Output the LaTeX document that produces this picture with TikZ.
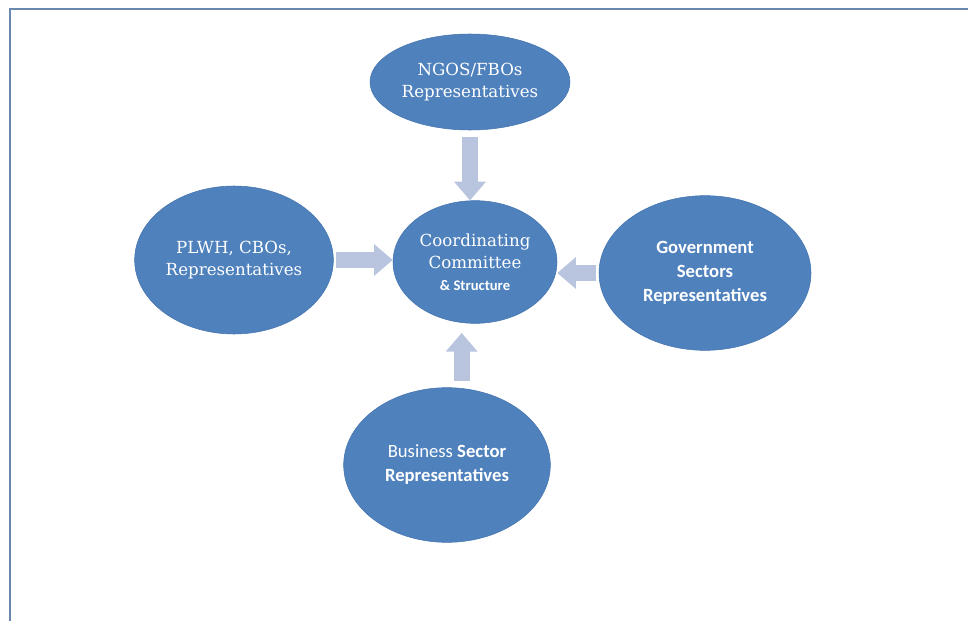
\documentclass[tikz,border=0pt]{standalone}
\usepackage{fontspec}
\setmainfont{DejaVu Serif}
\newfontfamily\calibri{Carlito}
\usepackage{tikz}
\usetikzlibrary{arrows.meta,shapes.geometric,positioning}
\definecolor{ovalblue}{HTML}{4F81BD}
\definecolor{ovalline}{HTML}{4474AE}
\definecolor{arrowgrey}{HTML}{B9C5DE}
\definecolor{framegrey}{HTML}{6A88AE}
\tikzset{
    %Define style for the ovals
    party/.style={
           ellipse,
           draw=ovalline, thin,
           fill=ovalblue,
           text=white,
           inner sep=0pt,
           align=center,
           font=\fontsize{12.5}{16.5}\selectfont},
    % Define arrow style
    feed/.style={
           draw=arrowgrey,
           line width=12pt,
           -{Triangle[width=23pt,length=14pt]},
           shorten <=5pt},
    frameline/.style={
           draw=framegrey,
           line width=1.5pt}
}
\newcommand{\bsans}[1]{{\calibri\bfseries #1}}
\begin{document}
\begin{tikzpicture}[x=0.75pt,y=-0.75pt]
\useasboundingbox (0,0) rectangle (968,621);
\draw[frameline] (10,621) -- (10,9) -- (968,9);

 %nodes
\node[party, minimum width=123pt, minimum height=92pt] (coord) at (475,262)
    {Coordinating\\Committee\\{\calibri\bfseries\fontsize{11}{14}\selectfont \& Structure}};
\node[party, minimum width=150pt, minimum height=72pt] (ngo) at (470,82)
    {NGOS/FBOs\\Representatives};
\node[party, minimum width=149pt, minimum height=111pt] (plwh) at (234,260)
    {PLWH, CBOs,\\Representatives};
\node[party, minimum width=159pt, minimum height=116pt,
      font=\calibri\bfseries\fontsize{14}{18}\selectfont] (gov) at (705,273)
    {Government\\Sectors\\Representatives};
\node[party, minimum width=155pt, minimum height=116pt,
      font=\calibri\fontsize{14}{18}\selectfont] (bus) at (447,465)
    {Business \bsans{Sector}\\\bsans{Representatives}};

 %arrows
\draw[feed] (ngo.south) -- (ngo.south |- coord.north);
\draw[feed, shorten <=2pt] (plwh.east) -- (plwh.east -| coord.west);
\draw[feed, shorten <=2pt] (gov.west) -- (gov.west -| coord.east);
\draw[feed, shorten >=7pt] ([xshift=11pt]bus.north) -- ([xshift=11pt]bus.north |- coord.south);
\end{tikzpicture}
\end{document}
